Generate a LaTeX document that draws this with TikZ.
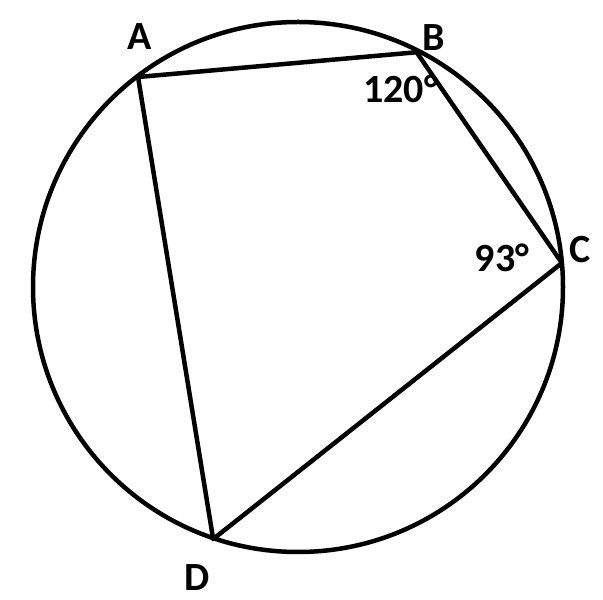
\documentclass[tikz,border=0pt]{standalone}
\usepackage{fontspec}
\setmainfont{Carlito}
\usetikzlibrary{positioning}

\tikzset{
  edge/.style={line width=4.5pt, line join=round},
  lbl/.style={font=\fontsize{40}{42}\selectfont\bfseries, inner sep=0pt}
}

\begin{document}
\begin{tikzpicture}[x=1pt,y=1pt]
\useasboundingbox (0,0) rectangle (603,600);

\coordinate (O) at (298,313);
\draw[edge] (O) circle (265);

% vertices on the circle
\coordinate (A) at ([shift={(127.3:264)}]O);
\coordinate (B) at ([shift={(63.2:263)}]O);
\coordinate (C) at ([shift={(5.2:265)}]O);
\coordinate (D) at ([shift={(251.4:266)}]O);

\draw[edge] (A)--(B)--(C)--(D)--cycle;

\node[lbl](labA) at ([shift={(2,40)}]A){A};
\node[lbl](labB) at ([shift={(17,15)}]B){B};
\node[lbl](labC) at ([shift={(18,13)}]C){C};
\node[lbl](labD) at ([shift={(-16,-38)}]D){D};

\node[lbl](angB) at ([shift={(-16,-37)}]B){120°};
\node[lbl](angC) at ([shift={(-60,5)}]C){93°};

\end{tikzpicture}
\end{document}
